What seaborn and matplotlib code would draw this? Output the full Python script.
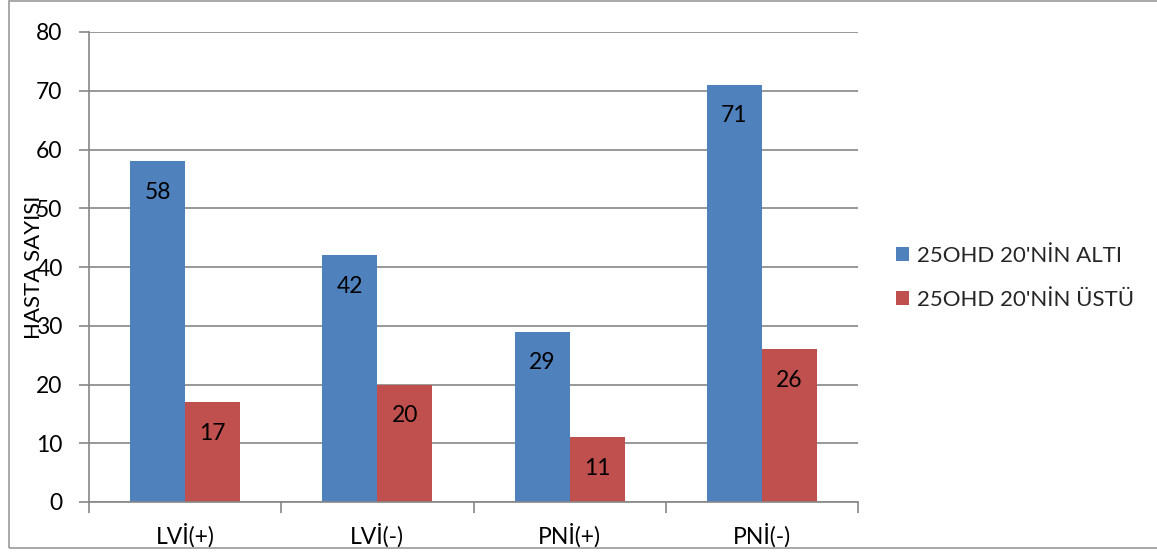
import matplotlib
matplotlib.use("Agg")
import matplotlib.pyplot as plt
from matplotlib.patches import Rectangle
import seaborn as sns
import pandas as pd
import numpy as np

categories = ["LVİ(+)", "LVİ(-)", "PNİ(+)", "PNİ(-)"]
series_names = ["25OHD 20'NİN ALTI", "25OHD 20'NİN ÜSTÜ"]
below_20 = [58, 42, 29, 71]
above_20 = [17, 20, 11, 26]
y_ticks = [0, 10, 20, 30, 40, 50, 60, 70, 80]

df = pd.DataFrame({
    "kategori": categories * 2,
    "seri": [series_names[0]] * 4 + [series_names[1]] * 4,
    "deger": below_20 + above_20,
})

sns.set_theme(style="white")
plt.rcParams["font.family"] = ["Lato", "DejaVu Sans"]

fig = plt.figure(figsize=(11.57, 5.53), dpi=100)
ax = fig.add_axes([89 / 1157, 1 - 502 / 553, (858 - 89) / 1157, (502 - 32) / 553])

palette = {series_names[0]: "#4F81BD", series_names[1]: "#C0504D"}
sns.barplot(data=df, x="kategori", y="deger", hue="seri", order=categories,
            hue_order=series_names, palette=palette, width=0.573, gap=0,
            saturation=1, ax=ax, legend=True, edgecolor="none", linewidth=0)

grid_color = "#868686"
ax.set_ylim(0, 80)
ax.set_xlim(-0.5, len(categories) - 0.5)
ax.set_yticks(y_ticks)
ax.yaxis.grid(True, color=grid_color, linewidth=1.2)
ax.set_axisbelow(True)
for side in ["top", "right"]:
    ax.spines[side].set_visible(False)
for side in ["left", "bottom"]:
    ax.spines[side].set_color(grid_color)
    ax.spines[side].set_linewidth(1.2)

ax.tick_params(axis="y", which="major", length=7, width=1.2, color=grid_color,
               labelsize=16.5, pad=12, left=True, labelcolor="black")
ax.tick_params(axis="x", which="major", length=0, labelsize=16.5, pad=15,
               labelcolor="black")
ax.set_xticks(np.arange(-0.5, len(categories), 1.0), minor=True)
ax.tick_params(axis="x", which="minor", length=8, width=1.2, color=grid_color,
               bottom=True, direction="out")
ax.set_xlabel("")
ax.set_ylabel("HASTA SAYISI", fontsize=16, labelpad=0, color="black")
ax.yaxis.set_label_coords(-45 / 769, 0.5)

for container in ax.containers:
    for bar in container:
        h = bar.get_height()
        ax.annotate(f"{h:.0f}", (bar.get_x() + bar.get_width() / 2, h),
                    xytext=(0, -31), textcoords="offset pixels",
                    ha="center", va="center", fontsize=16.5, color="black")

handles, labels = ax.get_legend_handles_labels()
ax.legend(handles, labels, loc="center left", bbox_to_anchor=(876 / 1157, 275 / 553),
          bbox_transform=fig.transFigure, frameon=False, fontsize=16,
          handlelength=0.6, handleheight=0.6, handletextpad=0.35,
          labelspacing=1.1)

fig.patches.append(Rectangle((9 / 1157, 5 / 553), 1.2, 547 / 553,
                             transform=fig.transFigure, fill=False,
                             edgecolor="#9a9a9a", linewidth=1.2))

fig.savefig("out.png", dpi=100)
